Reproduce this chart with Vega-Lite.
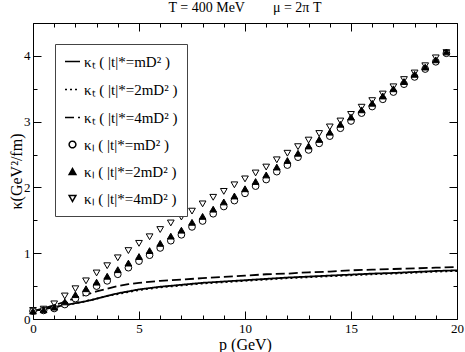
{
  "$schema": "https://vega.github.io/schema/vega-lite/v6.json",
  "width": 424,
  "height": 296,
  "autosize": "none",
  "padding": {"left": 33, "top": 23, "right": 8, "bottom": 33},
  "background": "white",
  "title": {"text": "T = 400 MeV\u00a0\u00a0\u00a0\u00a0\u00a0\u00a0\u00a0\u00a0μ = 2π T", "font": "Liberation Serif", "fontSize": 14, "fontWeight": "normal", "color": "black", "offset": 2},
  "datasets": {
    "lines": [
      {"p":0,"k":0.12,"s":"T1"},{"p":0.5,"k":0.15,"s":"T1"},{"p":1,"k":0.18,"s":"T1"},{"p":1.5,"k":0.21,"s":"T1"},{"p":2,"k":0.24,"s":"T1"},{"p":2.5,"k":0.27,"s":"T1"},{"p":3,"k":0.31,"s":"T1"},{"p":3.5,"k":0.35,"s":"T1"},{"p":4,"k":0.39,"s":"T1"},{"p":4.5,"k":0.42,"s":"T1"},{"p":5,"k":0.45,"s":"T1"},{"p":6,"k":0.49,"s":"T1"},{"p":7,"k":0.52,"s":"T1"},{"p":8,"k":0.55,"s":"T1"},{"p":9,"k":0.57,"s":"T1"},{"p":10,"k":0.59,"s":"T1"},{"p":11,"k":0.61,"s":"T1"},{"p":12,"k":0.63,"s":"T1"},{"p":13,"k":0.645,"s":"T1"},{"p":14,"k":0.66,"s":"T1"},{"p":15,"k":0.675,"s":"T1"},{"p":16,"k":0.69,"s":"T1"},{"p":17,"k":0.70,"s":"T1"},{"p":18,"k":0.715,"s":"T1"},{"p":19,"k":0.73,"s":"T1"},{"p":20,"k":0.74,"s":"T1"},
      {"p":0,"k":0.12,"s":"T2"},{"p":0.5,"k":0.15,"s":"T2"},{"p":1,"k":0.18,"s":"T2"},{"p":1.5,"k":0.21,"s":"T2"},{"p":2,"k":0.24,"s":"T2"},{"p":2.5,"k":0.27,"s":"T2"},{"p":3,"k":0.31,"s":"T2"},{"p":3.5,"k":0.35,"s":"T2"},{"p":4,"k":0.38,"s":"T2"},{"p":4.5,"k":0.41,"s":"T2"},{"p":5,"k":0.44,"s":"T2"},{"p":6,"k":0.48,"s":"T2"},{"p":7,"k":0.51,"s":"T2"},{"p":8,"k":0.54,"s":"T2"},{"p":9,"k":0.56,"s":"T2"},{"p":10,"k":0.58,"s":"T2"},{"p":11,"k":0.60,"s":"T2"},{"p":12,"k":0.62,"s":"T2"},{"p":13,"k":0.635,"s":"T2"},{"p":14,"k":0.65,"s":"T2"},{"p":15,"k":0.665,"s":"T2"},{"p":16,"k":0.68,"s":"T2"},{"p":17,"k":0.69,"s":"T2"},{"p":18,"k":0.705,"s":"T2"},{"p":19,"k":0.72,"s":"T2"},{"p":20,"k":0.73,"s":"T2"},
      {"p":0,"k":0.12,"s":"T4"},{"p":0.5,"k":0.16,"s":"T4"},{"p":1,"k":0.21,"s":"T4"},{"p":1.5,"k":0.26,"s":"T4"},{"p":2,"k":0.32,"s":"T4"},{"p":2.5,"k":0.37,"s":"T4"},{"p":3,"k":0.42,"s":"T4"},{"p":3.5,"k":0.46,"s":"T4"},{"p":4,"k":0.50,"s":"T4"},{"p":4.5,"k":0.53,"s":"T4"},{"p":5,"k":0.55,"s":"T4"},{"p":6,"k":0.58,"s":"T4"},{"p":7,"k":0.60,"s":"T4"},{"p":8,"k":0.62,"s":"T4"},{"p":9,"k":0.64,"s":"T4"},{"p":10,"k":0.66,"s":"T4"},{"p":11,"k":0.68,"s":"T4"},{"p":12,"k":0.69,"s":"T4"},{"p":13,"k":0.71,"s":"T4"},{"p":14,"k":0.72,"s":"T4"},{"p":15,"k":0.74,"s":"T4"},{"p":16,"k":0.75,"s":"T4"},{"p":17,"k":0.76,"s":"T4"},{"p":18,"k":0.77,"s":"T4"},{"p":19,"k":0.78,"s":"T4"},{"p":20,"k":0.79,"s":"T4"}
    ],
    "points": [
      {"p":0,"k":0.13,"s":"L4"},{"p":0.5,"k":0.15,"s":"L4"},{"p":1,"k":0.23,"s":"L4"},{"p":1.5,"k":0.35,"s":"L4"},{"p":2,"k":0.46,"s":"L4"},{"p":2.5,"k":0.58,"s":"L4"},{"p":3,"k":0.70,"s":"L4"},{"p":3.5,"k":0.81,"s":"L4"},{"p":4,"k":0.93,"s":"L4"},{"p":4.5,"k":1.04,"s":"L4"},{"p":5,"k":1.15,"s":"L4"},{"p":5.5,"k":1.25,"s":"L4"},{"p":6,"k":1.36,"s":"L4"},{"p":6.5,"k":1.46,"s":"L4"},{"p":7,"k":1.55,"s":"L4"},{"p":7.5,"k":1.64,"s":"L4"},{"p":8,"k":1.75,"s":"L4"},{"p":8.5,"k":1.85,"s":"L4"},{"p":9,"k":1.94,"s":"L4"},{"p":9.5,"k":2.04,"s":"L4"},{"p":10,"k":2.13,"s":"L4"},{"p":10.5,"k":2.22,"s":"L4"},{"p":11,"k":2.31,"s":"L4"},{"p":11.5,"k":2.42,"s":"L4"},{"p":12,"k":2.52,"s":"L4"},{"p":12.5,"k":2.62,"s":"L4"},{"p":13,"k":2.72,"s":"L4"},{"p":13.5,"k":2.82,"s":"L4"},{"p":14,"k":2.92,"s":"L4"},{"p":14.5,"k":3.01,"s":"L4"},{"p":15,"k":3.11,"s":"L4"},{"p":15.5,"k":3.22,"s":"L4"},{"p":16,"k":3.32,"s":"L4"},{"p":16.5,"k":3.42,"s":"L4"},{"p":17,"k":3.53,"s":"L4"},{"p":17.5,"k":3.64,"s":"L4"},{"p":18,"k":3.74,"s":"L4"},{"p":18.5,"k":3.85,"s":"L4"},{"p":19,"k":3.97,"s":"L4"},{"p":19.5,"k":4.05,"s":"L4"},
      {"p":0,"k":0.12,"s":"L1"},{"p":0.5,"k":0.13,"s":"L1"},{"p":1,"k":0.16,"s":"L1"},{"p":1.5,"k":0.22,"s":"L1"},{"p":2,"k":0.31,"s":"L1"},{"p":2.5,"k":0.40,"s":"L1"},{"p":3,"k":0.50,"s":"L1"},{"p":3.5,"k":0.58,"s":"L1"},{"p":4,"k":0.68,"s":"L1"},{"p":4.5,"k":0.78,"s":"L1"},{"p":5,"k":0.88,"s":"L1"},{"p":5.5,"k":0.97,"s":"L1"},{"p":6,"k":1.08,"s":"L1"},{"p":6.5,"k":1.19,"s":"L1"},{"p":7,"k":1.28,"s":"L1"},{"p":7.5,"k":1.40,"s":"L1"},{"p":8,"k":1.49,"s":"L1"},{"p":8.5,"k":1.60,"s":"L1"},{"p":9,"k":1.71,"s":"L1"},{"p":9.5,"k":1.80,"s":"L1"},{"p":10,"k":1.91,"s":"L1"},{"p":10.5,"k":2.02,"s":"L1"},{"p":11,"k":2.12,"s":"L1"},{"p":11.5,"k":2.24,"s":"L1"},{"p":12,"k":2.34,"s":"L1"},{"p":12.5,"k":2.46,"s":"L1"},{"p":13,"k":2.57,"s":"L1"},{"p":13.5,"k":2.67,"s":"L1"},{"p":14,"k":2.78,"s":"L1"},{"p":14.5,"k":2.90,"s":"L1"},{"p":15,"k":3.01,"s":"L1"},{"p":15.5,"k":3.13,"s":"L1"},{"p":16,"k":3.23,"s":"L1"},{"p":16.5,"k":3.34,"s":"L1"},{"p":17,"k":3.45,"s":"L1"},{"p":17.5,"k":3.57,"s":"L1"},{"p":18,"k":3.68,"s":"L1"},{"p":18.5,"k":3.80,"s":"L1"},{"p":19,"k":3.91,"s":"L1"},{"p":19.5,"k":4.04,"s":"L1"},
      {"p":0,"k":0.12,"s":"L2"},{"p":0.5,"k":0.14,"s":"L2"},{"p":1,"k":0.18,"s":"L2"},{"p":1.5,"k":0.26,"s":"L2"},{"p":2,"k":0.37,"s":"L2"},{"p":2.5,"k":0.46,"s":"L2"},{"p":3,"k":0.56,"s":"L2"},{"p":3.5,"k":0.65,"s":"L2"},{"p":4,"k":0.75,"s":"L2"},{"p":4.5,"k":0.85,"s":"L2"},{"p":5,"k":0.95,"s":"L2"},{"p":5.5,"k":1.04,"s":"L2"},{"p":6,"k":1.15,"s":"L2"},{"p":6.5,"k":1.26,"s":"L2"},{"p":7,"k":1.35,"s":"L2"},{"p":7.5,"k":1.47,"s":"L2"},{"p":8,"k":1.56,"s":"L2"},{"p":8.5,"k":1.67,"s":"L2"},{"p":9,"k":1.78,"s":"L2"},{"p":9.5,"k":1.87,"s":"L2"},{"p":10,"k":1.98,"s":"L2"},{"p":10.5,"k":2.09,"s":"L2"},{"p":11,"k":2.19,"s":"L2"},{"p":11.5,"k":2.31,"s":"L2"},{"p":12,"k":2.41,"s":"L2"},{"p":12.5,"k":2.52,"s":"L2"},{"p":13,"k":2.63,"s":"L2"},{"p":13.5,"k":2.73,"s":"L2"},{"p":14,"k":2.84,"s":"L2"},{"p":14.5,"k":2.96,"s":"L2"},{"p":15,"k":3.07,"s":"L2"},{"p":15.5,"k":3.18,"s":"L2"},{"p":16,"k":3.28,"s":"L2"},{"p":16.5,"k":3.39,"s":"L2"},{"p":17,"k":3.50,"s":"L2"},{"p":17.5,"k":3.61,"s":"L2"},{"p":18,"k":3.72,"s":"L2"},{"p":18.5,"k":3.83,"s":"L2"},{"p":19,"k":3.94,"s":"L2"},{"p":19.5,"k":4.06,"s":"L2"}
    ]
  },
  "encoding": {
    "x": {
      "field": "p", "type": "quantitative",
      "scale": {"domain": [0, 20], "nice": false, "zero": false},
      "axis": {
        "values": [0,1,2,3,4,5,6,7,8,9,10,11,12,13,14,15,16,17,18,19,20],
        "labelExpr": "datum.value % 5 === 0 ? '' + datum.value : ''",
        "ticks": false, "domain": false, "grid": true,
        "gridColor": "black", "gridOpacity": 1, "gridWidth": 1,
        "gridDash": {"condition": {"test": "datum.value % 5 === 0", "value": [8, 280, 8]}, "value": [4, 288, 4]},
        "labelFont": "Liberation Serif", "labelFontSize": 13, "labelColor": "black", "labelPadding": 3, "labelFlush": false, "labelOverlap": false,
        "title": "p (GeV)", "titleFont": "Liberation Serif", "titleFontSize": 16, "titleFontWeight": "normal", "titleColor": "black", "titlePadding": 1
      }
    },
    "y": {
      "field": "k", "type": "quantitative",
      "scale": {"domain": [0, 4.5], "nice": false, "zero": false},
      "axis": {
        "values": [0,0.5,1,1.5,2,2.5,3,3.5,4,4.5],
        "labelExpr": "datum.value % 1 === 0 ? '' + datum.value : ''",
        "ticks": false, "domain": false, "grid": true,
        "gridColor": "black", "gridOpacity": 1, "gridWidth": 1,
        "gridDash": {"condition": {"test": "datum.value % 1 === 0", "value": [8, 408, 8]}, "value": [4, 416, 4]},
        "labelFont": "Liberation Serif", "labelFontSize": 13, "labelColor": "black", "labelPadding": 3, "labelFlush": false, "labelOverlap": false,
        "title": "κ(GeV²/fm)", "titleFont": "Liberation Serif", "titleFontSize": 16, "titleFontWeight": "normal", "titleColor": "black", "titlePadding": -1
      }
    }
  },
  "layer": [
    {
      "data": {"name": "lines"},
      "mark": {"type": "line", "color": "black", "strokeWidth": 1.8},
      "encoding": {
        "strokeDash": {
          "field": "s", "type": "nominal",
          "scale": {"domain": ["T1", "T2", "T4", "L1", "L2", "L4"], "range": [[1, 0], [2, 3], [9, 4], [1, 0], [1, 0], [1, 0]]},
          "legend": {"title": null, "labelExpr": "datum.value == 'T1' ? 'κₜ ( |t|*=mD² )' : datum.value == 'T2' ? 'κₜ ( |t|*=2mD² )' : datum.value == 'T4' ? 'κₜ ( |t|*=4mD² )' : datum.value == 'L1' ? 'κₗ ( |t|*=mD² )' : datum.value == 'L2' ? 'κₗ ( |t|*=2mD² )' : 'κₗ ( |t|*=4mD² )'"}
        }
      }
    },
    {
      "data": {"name": "points"},
      "mark": {"type": "point", "filled": false, "strokeWidth": 1, "opacity": 1},
      "encoding": {
        "shape": {
          "field": "s", "type": "nominal",
          "scale": {"domain": ["T1", "T2", "T4", "L1", "L2", "L4"], "range": ["stroke", "stroke", "stroke", "circle", "triangle-up", "triangle-down"]},
          "legend": {"title": null, "labelExpr": "datum.value == 'T1' ? 'κₜ ( |t|*=mD² )' : datum.value == 'T2' ? 'κₜ ( |t|*=2mD² )' : datum.value == 'T4' ? 'κₜ ( |t|*=4mD² )' : datum.value == 'L1' ? 'κₗ ( |t|*=mD² )' : datum.value == 'L2' ? 'κₗ ( |t|*=2mD² )' : 'κₗ ( |t|*=4mD² )'"}
        },
        "color": {
          "field": "s", "type": "nominal",
          "scale": {"domain": ["T1", "T2", "T4", "L1", "L2", "L4"], "range": ["black", "black", "black", "black", "black", "black"]},
          "legend": {"title": null, "labelExpr": "datum.value == 'T1' ? 'κₜ ( |t|*=mD² )' : datum.value == 'T2' ? 'κₜ ( |t|*=2mD² )' : datum.value == 'T4' ? 'κₜ ( |t|*=4mD² )' : datum.value == 'L1' ? 'κₗ ( |t|*=mD² )' : datum.value == 'L2' ? 'κₗ ( |t|*=2mD² )' : 'κₗ ( |t|*=4mD² )'"}
        },
        "fill": {
          "field": "s", "type": "nominal",
          "scale": {"domain": ["T1", "T2", "T4", "L1", "L2", "L4"], "range": ["transparent", "transparent", "transparent", "white", "black", "white"]},
          "legend": {"title": null, "labelExpr": "datum.value == 'T1' ? 'κₜ ( |t|*=mD² )' : datum.value == 'T2' ? 'κₜ ( |t|*=2mD² )' : datum.value == 'T4' ? 'κₜ ( |t|*=4mD² )' : datum.value == 'L1' ? 'κₗ ( |t|*=mD² )' : datum.value == 'L2' ? 'κₗ ( |t|*=2mD² )' : 'κₗ ( |t|*=4mD² )'"}
        },
        "size": {
          "field": "s", "type": "nominal",
          "scale": {"type": "ordinal", "domain": ["T1", "T2", "T4", "L1", "L2", "L4"], "range": [225, 225, 225, 45, 45, 45]},
          "legend": {"title": null, "labelExpr": "datum.value == 'T1' ? 'κₜ ( |t|*=mD² )' : datum.value == 'T2' ? 'κₜ ( |t|*=2mD² )' : datum.value == 'T4' ? 'κₜ ( |t|*=4mD² )' : datum.value == 'L1' ? 'κₗ ( |t|*=mD² )' : datum.value == 'L2' ? 'κₗ ( |t|*=2mD² )' : 'κₗ ( |t|*=4mD² )'"}
        }
      }
    }
  ],
  "config": {
    "view": {"stroke": "black", "strokeWidth": 1},
    "font": "Liberation Serif",
    "legend": {
      "orient": "none", "legendX": 22, "legendY": 21,
      "padding": 9, "strokeColor": "#444", "fillColor": "white",
      "labelFont": "Liberation Serif", "labelFontSize": 15, "labelColor": "black", "labelOffset": 3,
      "rowPadding": 11, "symbolStrokeColor": "black", "symbolFillColor": "white",
      "symbolStrokeWidth": 1.5, "symbolOpacity": 1
    }
  }
}
